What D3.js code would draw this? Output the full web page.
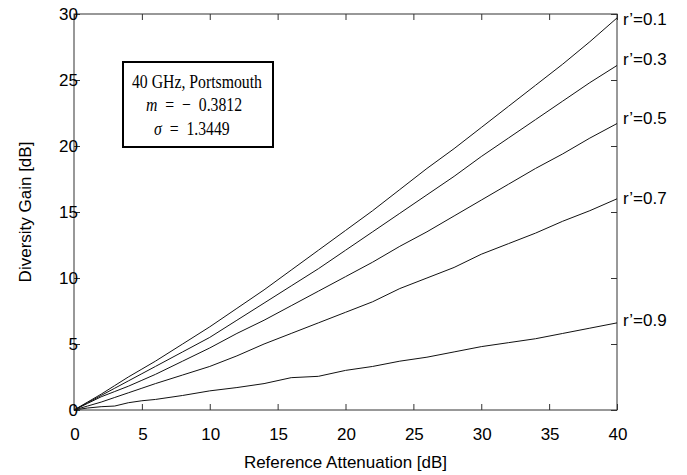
<!DOCTYPE html>
<html>
<head>
<meta charset="utf-8">
<script src="https://cdn.jsdelivr.net/npm/d3@7"></script>
<style>
  body { margin: 0; background: #fff; }
  svg text { font-family: "Liberation Sans", Arial, Helvetica, sans-serif; }
</style>
</head>
<body>
<svg id="chart" width="687" height="475"></svg>
<script>
// reference attenuation [dB]
var attenuation = [0, 1, 2, 3, 4, 5, 6, 8, 10, 12, 14, 16, 18, 20, 22, 24, 26, 28, 30, 32, 34, 36, 38, 40];

// diversity gain [dB] for each correlation r'
var gain01 = [0, 0.6, 1.2, 1.85, 2.5, 3.1, 3.7, 5.0, 6.3, 7.7, 9.1, 10.6, 12.1, 13.6, 15.1, 16.7, 18.3, 19.8, 21.4, 23.0, 24.6, 26.2, 27.9, 29.7];
var gain03 = [0, 0.55, 1.1, 1.65, 2.2, 2.75, 3.3, 4.4, 5.5, 6.8, 8.1, 9.4, 10.7, 12.1, 13.5, 14.9, 16.3, 17.7, 19.2, 20.6, 22.0, 23.4, 24.8, 26.1];
var gain05 = [0, 0.5, 1.0, 1.4, 1.8, 2.25, 2.7, 3.7, 4.7, 5.8, 6.8, 7.9, 9.0, 10.1, 11.2, 12.4, 13.5, 14.7, 15.9, 17.1, 18.3, 19.4, 20.6, 21.7];
var gain07 = [0, 0.3, 0.6, 0.95, 1.3, 1.65, 2.0, 2.65, 3.3, 4.1, 5.0, 5.8, 6.6, 7.4, 8.2, 9.2, 10.0, 10.8, 11.8, 12.6, 13.4, 14.3, 15.1, 16.0];
var gain09 = [0, 0.15, 0.25, 0.3, 0.55, 0.7, 0.8, 1.1, 1.45, 1.7, 2.0, 2.45, 2.55, 3.0, 3.3, 3.7, 4.0, 4.4, 4.8, 5.1, 5.4, 5.8, 6.2, 6.6];

var seriesNames = ["r\u2019=0.1", "r\u2019=0.3", "r\u2019=0.5", "r\u2019=0.7", "r\u2019=0.9"];
var seriesValues = [gain01, gain03, gain05, gain07, gain09];

var xTicks = [0, 5, 10, 15, 20, 25, 30, 35, 40];
var yTicks = [0, 5, 10, 15, 20, 25, 30];

var boxLines = ["40 GHz, Portsmouth", "m  =  \u2212  0.3812", "\u03c3  =  1.3449"];

var svg = d3.select('#chart');
var pLeft = 74, pRight = 617, pTop = 14, pBottom = 410;

var x = d3.scaleLinear().domain([0, 40]).range([pLeft, pRight]);
var y = d3.scaleLinear().domain([0, 30]).range([pBottom, pTop]);

var tickLen = 6;

// inward ticks on all four sides, matlab style
function ticks(g) {
  g.selectAll('.domain').remove();
  g.selectAll('.tick line').attr('stroke', '#333');
  g.selectAll('.tick text').remove();
}

svg.append('g')
  .attr('transform', 'translate(0,' + pBottom + ')')
  .call(d3.axisTop(x).tickValues(xTicks).tickSize(tickLen))
  .call(ticks);
svg.append('g')
  .attr('transform', 'translate(0,' + pTop + ')')
  .call(d3.axisBottom(x).tickValues(xTicks).tickSize(tickLen))
  .call(ticks);
svg.append('g')
  .attr('transform', 'translate(' + pLeft + ',0)')
  .call(d3.axisRight(y).tickValues(yTicks).tickSize(tickLen))
  .call(ticks);
svg.append('g')
  .attr('transform', 'translate(' + pRight + ',0)')
  .call(d3.axisLeft(y).tickValues(yTicks).tickSize(tickLen))
  .call(ticks);

// frame
svg.append('rect')
  .attr('x', pLeft).attr('y', pTop)
  .attr('width', pRight - pLeft).attr('height', pBottom - pTop)
  .attr('fill', 'none')
  .attr('stroke', '#333')
  .attr('stroke-width', 1);

// tick labels
svg.selectAll('text.xlab').data(xTicks).enter().append('text')
  .attr('class', 'xlab')
  .attr('x', function(d){ return x(d) + 1; })
  .attr('y', 440)
  .attr('text-anchor', 'middle')
  .attr('font-size', 17)
  .text(function(d){ return d; });

svg.selectAll('text.ylab').data(yTicks).enter().append('text')
  .attr('class', 'ylab')
  .attr('x', pLeft + 4)
  .attr('y', function(d){ return y(d) + 6; })
  .attr('text-anchor', 'end')
  .attr('font-size', 17)
  .text(function(d){ return d; });

// axis titles
svg.append('text')
  .attr('x', (pLeft + pRight) / 2)
  .attr('y', 468)
  .attr('text-anchor', 'middle')
  .attr('font-size', 17)
  .text('Reference Attenuation [dB]');

svg.append('text')
  .attr('transform', 'translate(31,' + ((pTop + pBottom) / 2) + ') rotate(-90)')
  .attr('text-anchor', 'middle')
  .attr('font-size', 17)
  .text('Diversity Gain [dB]');

// curves
var line = d3.line()
  .x(function(d){ return x(d[0]); })
  .y(function(d){ return y(d[1]); });

// label nudges relative to the curve end (px)
var labelShift = [7, 0, 0, 5, 3];

seriesValues.forEach(function(vals, i){
  var pts = attenuation.map(function(a, j){ return [a, vals[j]]; });
  svg.append('path')
    .datum(pts)
    .attr('d', line)
    .attr('fill', 'none')
    .attr('stroke', '#111')
    .attr('stroke-width', 1);

  svg.append('text')
    .attr('x', pRight + 6)
    .attr('y', y(vals[vals.length - 1]) + labelShift[i])
    .attr('font-size', 17)
    .text(seriesNames[i]);
});

// annotation box
svg.append('rect')
  .attr('x', 123).attr('y', 62)
  .attr('width', 150).attr('height', 85)
  .attr('fill', '#fff')
  .attr('stroke', '#000')
  .attr('stroke-width', 2);

var serif = '"Liberation Serif", "Times New Roman", Times, serif';
var boxX = [132, 146, 154];
var boxY = [88, 111, 135];

boxLines.forEach(function(str, i){
  var t = svg.append('g')
    .attr('transform', 'translate(' + boxX[i] + ',' + boxY[i] + ') scale(0.83,1)')
    .append('text')
    .attr('font-size', 19)
    .style('font-family', serif)
    .style('white-space', 'pre');
  if (i === 0) {
    t.text(str);
  } else {
    t.append('tspan').style('font-style', 'italic').text(str.slice(0, 1));
    t.append('tspan').text(str.slice(1));
  }
});
</script>
</body>
</html>
